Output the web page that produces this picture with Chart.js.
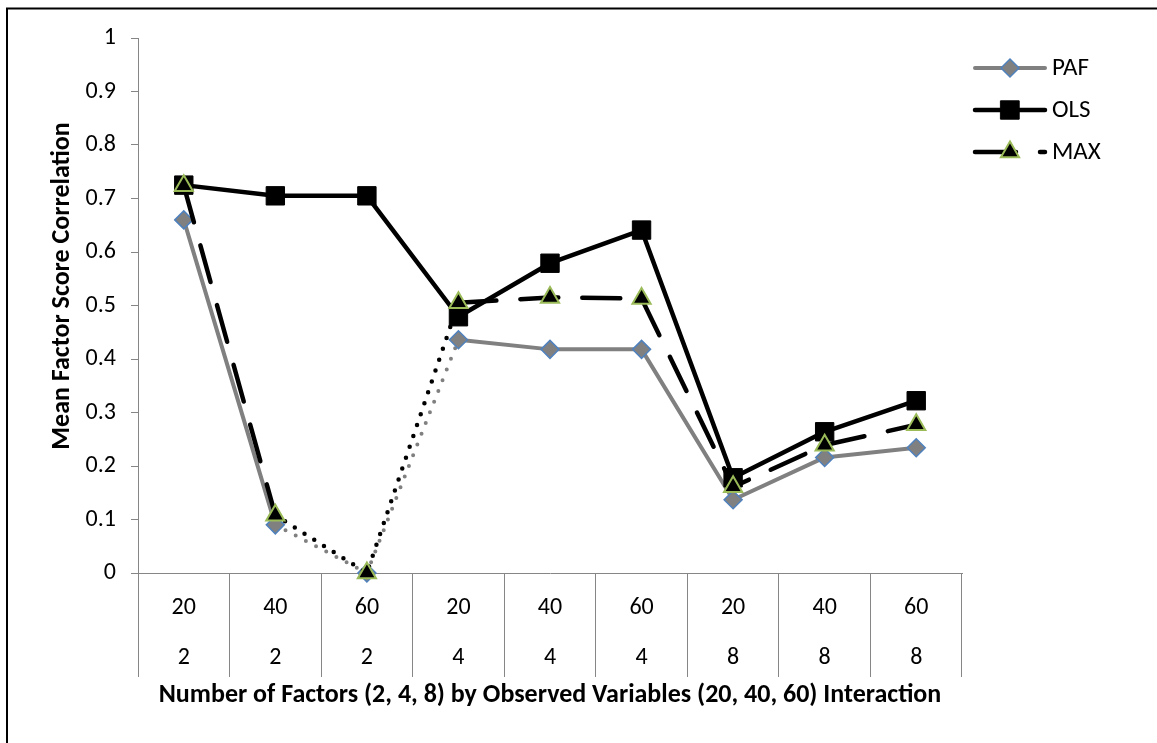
<!DOCTYPE html>
<html>
<head>
<meta charset="utf-8">
<script src="https://cdn.jsdelivr.net/npm/chart.js@4.4.1/dist/chart.umd.min.js"></script>
<style>
html,body{margin:0;padding:0;background:#ffffff;}
#wrap{width:1157px;height:743px;position:relative;}
canvas{display:block;}
</style>
</head>
<body>
<div id="wrap"><canvas id="c" width="1157" height="743"></canvas></div>
<script>
// ---- data ----
const observedVars = ['20', '40', '60', '20', '40', '60', '20', '40', '60'];
const numFactors   = ['2', '2', '2', '4', '4', '4', '8', '8', '8'];
const seriesNames  = ['PAF', 'OLS', 'MAX'];
const pafValues = [0.660, 0.090, 0.000, 0.436, 0.418, 0.418, 0.137, 0.216, 0.234];
const olsValues = [0.725, 0.705, 0.705, 0.479, 0.579, 0.641, 0.178, 0.264, 0.322];
const maxValues = [0.724, 0.108, 0.000, 0.505, 0.515, 0.513, 0.161, 0.239, 0.277];
const yTickLabels = ['0', '0.1', '0.2', '0.3', '0.4', '0.5', '0.6', '0.7', '0.8', '0.9', '1'];
const xTitle = 'Number of Factors (2, 4, 8) by Observed Variables (20, 40, 60) Interaction';
const yTitle = 'Mean Factor Score Correlation';

const FONT = 'Carlito, Calibri, Lato, "Liberation Sans", sans-serif';
const TICK_SIZE = 24;
const LEGEND_SIZE = 25;
const TITLE_SIZE = 26;
const categoryLabels = observedVars.map((v, i) => [v, numFactors[i]]);

const DOT = [0, 11.5];
const LONGDASH = [38, 24];
const dottedIdx = i => i === 1 || i === 2;

const styles = [
  { color: '#808080', width: 4, point: 'rectRot', radius: 9, fill: '#808080', border: '#4f81bd', bw: 1.5,
    dash: ctx => dottedIdx(ctx.p0DataIndex) ? DOT : [], legendDash: [] },
  { color: '#000000', width: 4.5, point: 'rect', radius: 13, fill: '#000000', border: '#000000', bw: 1,
    dash: ctx => [], legendDash: [] },
  { color: '#000000', width: 4.5, point: 'triangle', radius: 10.5, fill: '#000000', border: '#9bbb59', bw: 2,
    dash: ctx => dottedIdx(ctx.p0DataIndex) ? DOT : LONGDASH, legendDash: [41, 24] }
];
const seriesValues = [pafValues, olsValues, maxValues];

const datasets = seriesNames.map((name, i) => ({
  label: name,
  data: seriesValues[i],
  borderColor: styles[i].color,
  borderWidth: styles[i].width,
  borderCapStyle: 'round',
  borderJoinStyle: 'round',
  pointStyle: styles[i].point,
  pointRadius: styles[i].radius,
  pointHoverRadius: styles[i].radius,
  pointBackgroundColor: styles[i].fill,
  pointBorderColor: styles[i].border,
  pointBorderWidth: styles[i].bw,
  tension: 0,
  fill: false,
  clip: false,
  order: 2 - i,
  segment: { borderDash: styles[i].dash }
}));

const framePlugin = {
  id: 'frame',
  beforeDraw(chart) {
    const ctx = chart.ctx;
    ctx.save();
    ctx.fillStyle = '#ffffff';
    ctx.fillRect(0, 0, chart.width, chart.height);
    ctx.strokeStyle = '#000000';
    ctx.lineWidth = 2;
    ctx.strokeRect(7, 8.5, 1300, 900);
    ctx.restore();
  }
};

const yTitlePlugin = {
  id: 'yTitle',
  afterDraw(chart) {
    const ctx = chart.ctx;
    ctx.save();
    ctx.translate(62, 286);
    ctx.rotate(-Math.PI / 2);
    ctx.fillStyle = '#000000';
    ctx.font = 'bold ' + TITLE_SIZE + 'px ' + FONT;
    ctx.textAlign = 'center';
    ctx.textBaseline = 'middle';
    ctx.fillText(yTitle, 0, 0);
    ctx.restore();
  }
};

const legendPlugin = {
  id: 'lineLegend',
  afterDraw(chart) {
    const ctx = chart.ctx;
    const x0 = 975, x1 = 1045, tx = 1052;
    const ys = [68, 110, 152];
    ctx.save();
    seriesNames.forEach((name, i) => {
      const s = styles[i];
      const y = ys[i];
      ctx.beginPath();
      ctx.strokeStyle = s.color;
      ctx.lineWidth = s.width;
      ctx.lineCap = 'round';
      ctx.setLineDash(s.legendDash);
      ctx.moveTo(x0, y);
      ctx.lineTo(x1, y);
      ctx.stroke();
      ctx.setLineDash([]);
      ctx.fillStyle = s.fill;
      ctx.strokeStyle = s.border;
      ctx.lineWidth = s.bw;
      Chart.helpers.drawPoint(ctx, { pointStyle: s.point, radius: s.radius, rotation: 0, borderWidth: s.bw }, 1010, y);
      ctx.fillStyle = '#000000';
      ctx.font = LEGEND_SIZE + 'px ' + FONT;
      ctx.textAlign = 'left';
      ctx.textBaseline = 'middle';
      ctx.fillText(name, tx, y + 1);
    });
    ctx.restore();
  }
};

new Chart(document.getElementById('c'), {
  type: 'line',
  data: { labels: categoryLabels, datasets },
  options: {
    responsive: false,
    animation: false,
    devicePixelRatio: 1,
    layout: { padding: { left: 0, top: 38, right: 195, bottom: 0 } },
    plugins: { legend: { display: false }, tooltip: { enabled: false } },
    scales: {
      x: {
        type: 'category',
        offset: true,
        grid: { display: true, offset: true, drawOnChartArea: false, drawTicks: true, tickLength: 104, color: '#868686', lineWidth: 1 },
        border: { display: true, color: '#868686', width: 1 },
        ticks: { color: '#000000', padding: -94, maxRotation: 0, autoSkip: false,
                 font: { family: FONT, size: TICK_SIZE, lineHeight: '50px' } },
        title: { display: true, text: xTitle, color: '#000000', padding: { top: 0, bottom: 32 },
                 font: { family: FONT, size: TITLE_SIZE, weight: 'bold' } },
        afterFit(scale) { scale.height = 170; }
      },
      y: {
        min: 0, max: 1,
        grid: { display: true, drawOnChartArea: false, drawTicks: true, tickLength: 7, color: '#868686', lineWidth: 1 },
        border: { display: true, color: '#868686', width: 1 },
        ticks: { stepSize: 0.1, color: '#000000', padding: 15,
                 font: { family: FONT, size: TICK_SIZE },
                 callback: (v, i) => yTickLabels[i] },
        title: { display: false },
        afterFit(scale) { scale.width = 138; }
      }
    }
  },
  plugins: [framePlugin, yTitlePlugin, legendPlugin]
});
</script>
</body>
</html>
